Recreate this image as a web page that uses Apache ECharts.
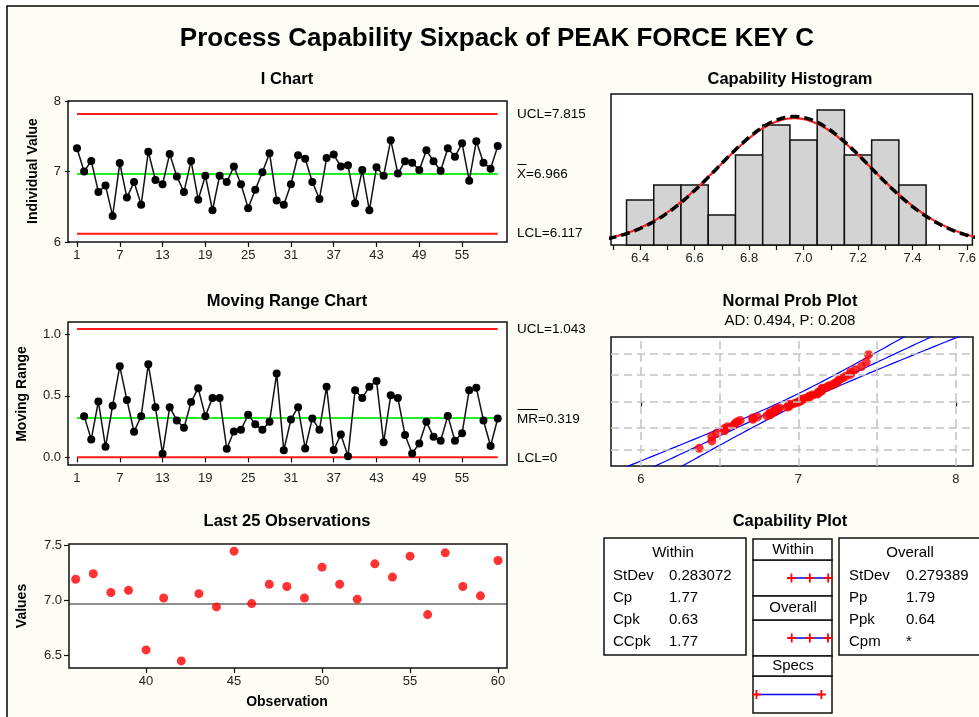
<!DOCTYPE html>
<html>
<head>
    <meta charset="utf-8" />
    <title>Process Capability Sixpack</title>
    <script src="https://cdn.jsdelivr.net/npm/echarts@6.0.0/dist/echarts.min.js"></script>
    <style type="text/css">
        html, body { width: 100%; height: 100%; margin: 0; background: #fff; }
        #main { width: 979px; height: 717px; }
    </style>
</head>
<body>
    <div id="main"></div>
    <script>
        // individual values, observations 1..60
        var iValues = [7.33, 7.00, 7.15, 6.71, 6.80, 6.37, 7.12, 6.63, 6.85, 6.53,
            7.28, 6.88, 6.82, 7.25, 6.93, 6.71, 7.15, 6.60, 6.94, 6.45,
            6.94, 6.85, 7.07, 6.82, 6.48, 6.74, 6.99, 7.26, 6.59, 6.53,
            6.82, 7.23, 7.18, 6.85, 6.61, 7.19, 7.24, 7.07, 7.09, 6.55,
            7.02, 6.45, 7.06, 6.94, 7.445, 6.97, 7.145, 7.125, 7.02, 7.30,
            7.145, 7.01, 7.33, 7.21, 7.40, 6.87, 7.43, 7.125, 7.04, 7.36];
        // moving ranges, observations 2..60
        var mrValues = [0.335, 0.146, 0.454, 0.086, 0.42, 0.74, 0.467, 0.208, 0.335, 0.757,
            0.408, 0.03, 0.408, 0.30, 0.24, 0.45, 0.562, 0.335, 0.483, 0.483,
            0.07, 0.21, 0.224, 0.346, 0.27, 0.224, 0.289, 0.681, 0.057, 0.308,
            0.408, 0.073, 0.316, 0.224, 0.573, 0.059, 0.186, 0.01, 0.546, 0.483,
            0.573, 0.621, 0.122, 0.505, 0.483, 0.181, 0.032, 0.113, 0.289, 0.167,
            0.135, 0.337, 0.135, 0.195, 0.546, 0.565, 0.30, 0.092, 0.316];
        // histogram bins
        var binCenters = [6.4, 6.5, 6.6, 6.7, 6.8, 6.9, 7.0, 7.1, 7.2, 7.3, 7.4];
        var binCounts = [3, 4, 4, 2, 6, 8, 7, 9, 6, 7, 4];
        var binWidth = 0.1;

        // stats printed on the chart
        var xBar = 6.966, iUcl = 7.815, iLcl = 6.117;
        var mrBar = 0.319, mrUcl = 1.043, mrLcl = 0;
        var sdWithin = 0.283072, sdOverall = 0.279389;
        var lsl = 4.5, usl = 7.5;

        // tick labels
        var obsTicks = [1, 7, 13, 19, 25, 31, 37, 43, 49, 55];
        var last25Ticks = [40, 45, 50, 55, 60];
        var histLabels = [6.4, 6.6, 6.8, 7.0, 7.2, 7.4, 7.6];
        var histTicks = [6.3, 6.4, 6.5, 6.6, 6.7, 6.8, 6.9, 7.0, 7.1, 7.2, 7.3, 7.4, 7.5, 7.6];
        var probTicks = [6, 7, 8];
        var probGridX = [6, 6.5, 7, 7.5, 8];
        var probGridZ = [-2.326, -1.282, 0, 1.282, 2.326]; // 1, 10, 50, 90, 99 %

        var FONT = 'Liberation Sans, Arial, sans-serif';
        var n = iValues.length;

        var iData = iValues.map(function (v, i) { return [i + 1, v]; });
        var mrData = mrValues.map(function (v, i) { return [i + 2, v]; });
        var last25 = iData.slice(n - 25);

        function pdf(x, m, s) {
            return Math.exp(-0.5 * Math.pow((x - m) / s, 2)) / (s * Math.sqrt(2 * Math.PI));
        }
        var curveW = [], curveO = [];
        for (var x = 6.28; x <= 7.64; x += 0.01) {
            curveW.push([x, n * binWidth * pdf(x, xBar, sdWithin)]);
            curveO.push([x, n * binWidth * pdf(x, xBar, sdOverall)]);
        }

        // normal probability plot: sorted values against normal scores
        function normScore(p) { return 4.91 * (Math.pow(p, 0.14) - Math.pow(1 - p, 0.14)); }
        var sorted = iValues.slice().sort(function (a, b) { return a - b; });
        var probPts = sorted.map(function (v, i) { return [v, normScore((i + 1 - 0.3) / (n + 0.4))]; });
        var fitLine = [], bandLo = [], bandHi = [];
        for (var z = -3.3; z <= 3.31; z += 0.1) {
            var xf = xBar + z * sdOverall;
            var h = 1.96 * sdOverall * Math.sqrt(1 / n + z * z / (2 * n));
            fitLine.push([xf, z]);
            bandLo.push([xf - h, z]);
            bandHi.push([xf + h, z]);
        }

        var plusPath = 'path://M4,0L6,0L6,4L10,4L10,6L6,6L6,10L4,10L4,6L0,6L0,4L4,4Z';

        function gridBox(left, top, width, height) {
            return { left: left, top: top, width: width, height: height, show: true,
                backgroundColor: '#fff', borderColor: '#111', borderWidth: 1.5 };
        }
        function valAxis(grid, min, max, ticks, labels, fmt) {
            return {
                gridIndex: grid, type: 'value', min: min, max: max,
                axisLine: { show: false },
                splitLine: { show: false },
                axisTick: { show: !!ticks, customValues: ticks || [], length: 5, lineStyle: { color: '#111', width: 1.2 } },
                axisLabel: { show: !!labels, customValues: labels || [], color: '#222', fontSize: 13, fontFamily: FONT, margin: 7,
                    formatter: fmt || function (v) { return String(v); } }
            };
        }
        function hline(xa, ya, x0, x1, y, color, width) {
            return { type: 'line', xAxisIndex: xa, yAxisIndex: ya, data: [[x0, y], [x1, y]], symbol: 'none',
                silent: true, lineStyle: { color: color, width: width }, z: 2 };
        }
        function capInterval(idx, pts) {
            return { type: 'line', xAxisIndex: idx, yAxisIndex: idx, data: pts.map(function (v) { return [v, 0]; }),
                symbol: plusPath, symbolSize: 9, itemStyle: { color: '#ff0000' },
                lineStyle: { color: '#0000ff', width: 1.5 }, silent: true };
        }

        function txt(x, y, s, size, bold, align, rot) {
            return { type: 'text', x: x, y: y, rotation: rot || 0, silent: true,
                style: { text: s, fontSize: size, fontWeight: bold ? 'bold' : 'normal', fontFamily: FONT,
                    fill: '#000', align: align || 'center', verticalAlign: 'middle' } };
        }
        function box(x, y, w, h) {
            return { type: 'rect', shape: { x: x, y: y, width: w, height: h }, silent: true,
                style: { fill: '#fff', stroke: '#111', lineWidth: 1.5 }, z: 0 };
        }

        var graphics = [
            { type: 'rect', shape: { x: 7, y: 6, width: 1000, height: 740 }, silent: true, z: -100,
                style: { fill: '#fdfdf6', stroke: '#000', lineWidth: 1.5 } },
            txt(497, 39, 'Process Capability Sixpack of PEAK FORCE KEY C', 26, true),
            txt(287, 79, 'I Chart', 16.5, true),
            txt(790, 79, 'Capability Histogram', 16.5, true),
            txt(287, 301, 'Moving Range Chart', 16.5, true),
            txt(790, 301, 'Normal Prob Plot', 16.5, true),
            txt(790, 321, 'AD: 0.494, P: 0.208', 15, false),
            txt(287, 521, 'Last 25 Observations', 16.5, true),
            txt(790, 521, 'Capability Plot', 16.5, true),
            txt(33, 171, 'Individual Value', 14, true, 'center', Math.PI / 2),
            txt(22, 394, 'Moving Range', 14, true, 'center', Math.PI / 2),
            txt(22, 606, 'Values', 14, true, 'center', Math.PI / 2),
            txt(287, 702, 'Observation', 14, true),
            txt(517, 114, 'UCL=' + iUcl.toFixed(3), 13.5, false, 'left'),
            txt(517, 174, 'X=' + xBar.toFixed(3), 13.5, false, 'left'),
            { type: 'line', shape: { x1: 517.5, y1: 164.5, x2: 526.5, y2: 164.5 }, style: { stroke: '#000', lineWidth: 1 }, silent: true },
            txt(517, 233, 'LCL=' + iLcl.toFixed(3), 13.5, false, 'left'),
            txt(517, 329, 'UCL=' + mrUcl.toFixed(3), 13.5, false, 'left'),
            txt(517, 419, 'MR=' + mrBar.toFixed(3), 13.5, false, 'left'),
            { type: 'line', shape: { x1: 517.5, y1: 409.5, x2: 538, y2: 409.5 }, style: { stroke: '#000', lineWidth: 1 }, silent: true },
            txt(517, 458, 'LCL=' + mrLcl, 13.5, false, 'left'),

            box(604, 538, 142, 117),
            txt(673, 553, 'Within', 15, false),
            txt(613, 576, 'StDev', 15, false, 'left'), txt(669, 576, sdWithin.toFixed(6), 15, false, 'left'),
            txt(613, 598, 'Cp', 15, false, 'left'), txt(669, 598, '1.77', 15, false, 'left'),
            txt(613, 620, 'Cpk', 15, false, 'left'), txt(669, 620, '0.63', 15, false, 'left'),
            txt(613, 642, 'CCpk', 15, false, 'left'), txt(669, 642, '1.77', 15, false, 'left'),

            box(839, 538, 150, 117),
            txt(910, 553, 'Overall', 15, false),
            txt(849, 576, 'StDev', 15, false, 'left'), txt(906, 576, sdOverall.toFixed(6), 15, false, 'left'),
            txt(849, 598, 'Pp', 15, false, 'left'), txt(906, 598, '1.79', 15, false, 'left'),
            txt(849, 620, 'Ppk', 15, false, 'left'), txt(906, 620, '0.64', 15, false, 'left'),
            txt(849, 642, 'Cpm', 15, false, 'left'), txt(906, 642, '*', 15, false, 'left'),

            box(753, 539, 79, 21), txt(793, 549.5, 'Within', 15, false),
            box(753, 596, 79, 24), txt(793, 608, 'Overall', 15, false),
            box(753, 656, 79, 20), txt(793, 666, 'Specs', 15, false)
        ];

        var chart = echarts.init(document.getElementById('main'), null, { renderer: 'canvas' });
        var option = {
            animation: false,
            backgroundColor: '#fff',
            textStyle: { fontFamily: FONT },
            graphic: graphics,
            grid: [
                gridBox(68, 101, 439, 141),
                gridBox(68, 322, 439, 143),
                gridBox(69, 544, 438, 124),
                gridBox(611, 94, 362, 151),
                gridBox(611, 337, 362, 129),
                gridBox(753, 560, 79, 36),
                gridBox(753, 620, 79, 36),
                gridBox(753, 676, 79, 37)
            ],
            xAxis: [
                valAxis(0, -0.26, 61.3, obsTicks, obsTicks),
                valAxis(1, -0.26, 61.3, obsTicks, obsTicks),
                valAxis(2, 35.62, 60.51, last25Ticks, last25Ticks),
                valAxis(3, 6.293, 7.62, histTicks, histLabels, function (v) { return v.toFixed(1); }),
                valAxis(4, 5.81, 8.108, probTicks, probTicks),
                valAxis(5, 4.34, 7.99, null, null),
                valAxis(6, 4.34, 7.99, null, null),
                valAxis(7, 4.34, 7.99, null, null)
            ],
            yAxis: [
                valAxis(0, 6, 8, [6, 7, 8], [6, 7, 8]),
                valAxis(1, -0.062, 1.1, [0, 0.5, 1.0], [0, 0.5, 1.0], function (v) { return v.toFixed(1); }),
                valAxis(2, 6.386, 7.51, [6.5, 7.0, 7.5], [6.5, 7.0, 7.5], function (v) { return v.toFixed(1); }),
                valAxis(3, 0, 10.07, null, null),
                valAxis(4, -3.13, 3.13, null, null),
                valAxis(5, -1, 1, null, null),
                valAxis(6, -1, 1, null, null),
                valAxis(7, -1, 1, null, null)
            ],
            series: [
                // I chart
                hline(0, 0, 1, 60, iUcl, '#ff1a1a', 2),
                hline(0, 0, 1, 60, iLcl, '#ff1a1a', 2),
                hline(0, 0, 1, 60, xBar, '#22ee22', 2),
                { type: 'line', xAxisIndex: 0, yAxisIndex: 0, data: iData, symbol: 'circle', symbolSize: 8,
                    itemStyle: { color: '#000' }, lineStyle: { color: '#111', width: 1.5 }, z: 3 },
                // moving range chart
                hline(1, 1, 1, 60, mrUcl, '#ff1a1a', 2),
                hline(1, 1, 1, 60, mrLcl, '#ff1a1a', 2),
                hline(1, 1, 1, 60, mrBar, '#22ee22', 2),
                { type: 'line', xAxisIndex: 1, yAxisIndex: 1, data: mrData, symbol: 'circle', symbolSize: 8,
                    itemStyle: { color: '#000' }, lineStyle: { color: '#111', width: 1.5 }, z: 3 },
                // last 25 observations
                hline(2, 2, 35.62, 60.51, xBar, '#222', 1.2),
                { type: 'scatter', xAxisIndex: 2, yAxisIndex: 2, data: last25, symbolSize: 9,
                    itemStyle: { color: '#ff0000' }, z: 3 },
                // histogram
                { type: 'custom', xAxisIndex: 3, yAxisIndex: 3, z: 2,
                    data: binCenters.map(function (c, i) { return [c, binCounts[i]]; }),
                    renderItem: function (params, api) {
                        var c = api.value(0), cnt = api.value(1);
                        var p0 = api.coord([c - binWidth / 2, cnt]);
                        var p1 = api.coord([c + binWidth / 2, 0]);
                        return { type: 'rect', shape: { x: p0[0], y: p0[1], width: p1[0] - p0[0], height: p1[1] - p0[1] },
                            style: { fill: '#d3d3d3', stroke: '#111', lineWidth: 1.5 } };
                    } },
                { type: 'line', xAxisIndex: 3, yAxisIndex: 3, data: curveW, symbol: 'none',
                    lineStyle: { color: '#ff2020', width: 2.2 }, z: 3 },
                { type: 'line', xAxisIndex: 3, yAxisIndex: 3, data: curveO, symbol: 'none',
                    lineStyle: { color: '#000', width: 3.5, type: [9, 5] }, z: 4 },
                // normal probability plot
                { type: 'line', xAxisIndex: 4, yAxisIndex: 4, data: [], symbol: 'none', z: 1,
                    markLine: { silent: true, symbol: 'none', label: { show: false },
                        lineStyle: { color: '#c2c2c2', width: 1.5, type: [8, 5] },
                        data: probGridX.map(function (v) { return { xAxis: v }; })
                            .concat(probGridZ.map(function (v) { return { yAxis: v }; })) } },
                { type: 'line', xAxisIndex: 4, yAxisIndex: 4, data: bandLo, symbol: 'none',
                    lineStyle: { color: '#0000ff', width: 1.2 }, z: 2 },
                { type: 'line', xAxisIndex: 4, yAxisIndex: 4, data: fitLine, symbol: 'none',
                    lineStyle: { color: '#0000ff', width: 1.2 }, z: 2 },
                { type: 'line', xAxisIndex: 4, yAxisIndex: 4, data: bandHi, symbol: 'none',
                    lineStyle: { color: '#0000ff', width: 1.2 }, z: 2 },
                { type: 'scatter', xAxisIndex: 4, yAxisIndex: 4, data: probPts, symbolSize: 9,
                    itemStyle: { color: '#ff0000' }, z: 3 },
                // capability plot intervals
                capInterval(5, [xBar - 3 * sdWithin, xBar, xBar + 3 * sdWithin]),
                capInterval(6, [xBar - 3 * sdOverall, xBar, xBar + 3 * sdOverall]),
                capInterval(7, [lsl, usl])
            ]
        };
        chart.setOption(option);
    </script>
</body>
</html>
